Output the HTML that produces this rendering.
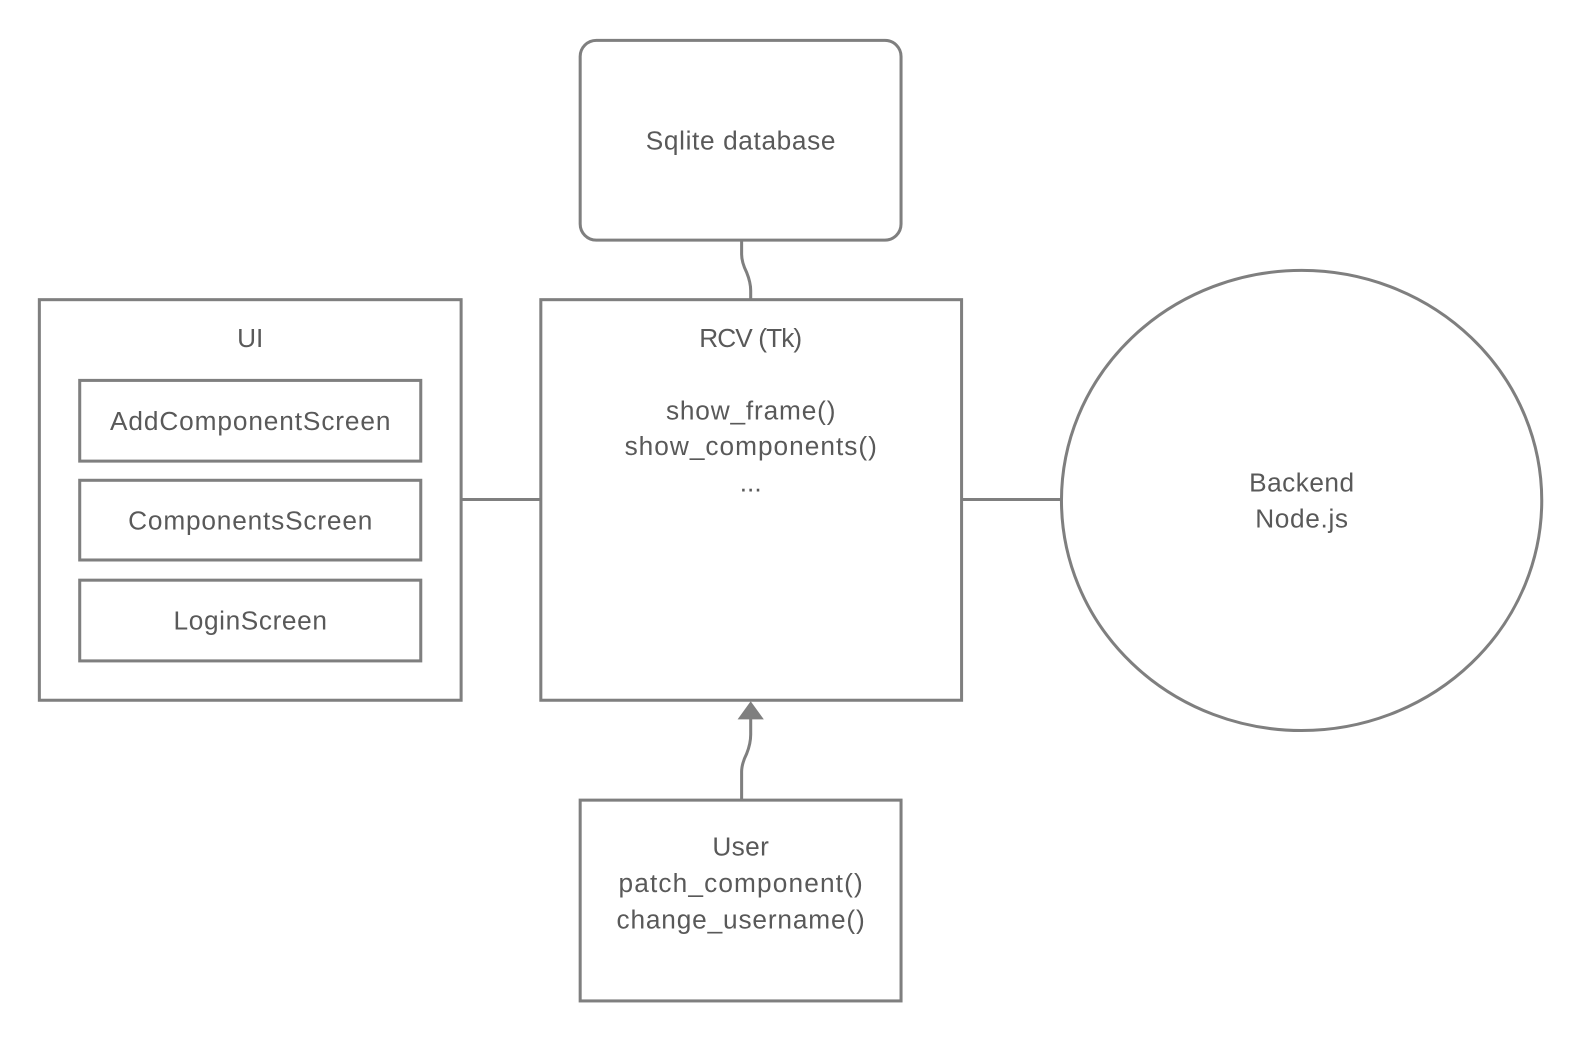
<!DOCTYPE html>
<html><head><meta charset="utf-8"><style>
body{margin:0;background:#fff;}
svg text{font-family:"Liberation Sans",sans-serif;font-size:26px;fill:#595959;text-anchor:middle;}
</style></head><body>
<svg width="1580" height="1040" viewBox="0 0 1580 1040" xmlns="http://www.w3.org/2000/svg">
<g transform="scale(1.009)">
<g fill="none" stroke="#7f7f7f" stroke-width="3">
<rect x="575" y="40" width="318" height="198" rx="16"/>
<rect x="39" y="297" width="418" height="397"/>
<rect x="79" y="377" width="338" height="80"/>
<rect x="79" y="476" width="338" height="79"/>
<rect x="79" y="575" width="338" height="80"/>
<rect x="536" y="297" width="417" height="397"/>
<ellipse cx="1290" cy="496" rx="238" ry="228"/>
<rect x="575" y="793" width="318" height="199"/>
<line x1="457" y1="495" x2="536" y2="495"/>
<line x1="953" y1="495" x2="1052" y2="495"/>
<path d="M735 238 L735 252 Q735 260 740 270 Q744 280 744 288 L744 297"/>
<path d="M735 793 L735 765 Q735 757 740 747 Q744 737 744 728 L744 712"/>
</g>
<polygon points="744,695 731,713 757,713" fill="#7f7f7f"/>
<text x="734" y="148" textLength="188">Sqlite database</text>
<text x="248" y="344">UI</text>
<text x="248" y="426" textLength="278">AddComponentScreen</text>
<text x="248" y="525" textLength="242">ComponentsScreen</text>
<text x="248" y="624" textLength="152">LoginScreen</text>
<text x="744" y="344" textLength="102">RCV (Tk)</text>
<text x="744" y="416" textLength="168">show_frame()</text>
<text x="744" y="451" textLength="250">show_components()</text>
<text x="744" y="487">...</text>
<text x="1290" y="487" textLength="104">Backend</text>
<text x="1290" y="523" textLength="92">Node.js</text>
<text x="734" y="848" textLength="56">User</text>
<text x="734" y="884" textLength="242">patch_component()</text>
<text x="734" y="920" textLength="246">change_username()</text>
</g>
</svg>
</body></html>
